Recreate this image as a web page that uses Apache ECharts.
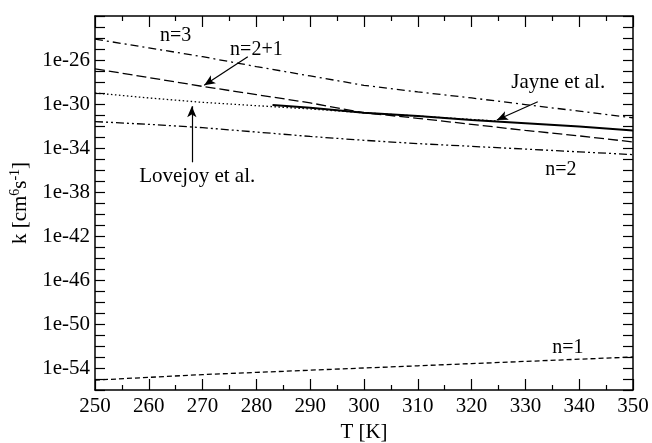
<!DOCTYPE html>
<html>
<head>
<meta charset="utf-8">
<script src="https://cdn.jsdelivr.net/npm/echarts@6/dist/echarts.min.js"></script>
<style>
  html, body { margin: 0; padding: 0; background: #fff; }
  #chart { width: 652px; height: 443px; }
</style>
</head>
<body>
<div id="chart"></div>
<script>
// temperatures [K]
const temps = [250, 260, 270, 280, 290, 300, 310, 320, 330, 340, 350];
// log10 of rate constant k [cm^6 s^-1]
const n3 = [-24.1, -24.9, -25.7, -26.6, -27.45, -28.3, -28.9, -29.45, -30.05, -30.65, -31.25];
const n21 = [-26.8, -27.6, -28.4, -29.15, -29.9, -30.8, -31.3, -31.85, -32.4, -32.9, -33.45];
const n2 = [-31.6, -31.85, -32.15, -32.55, -32.95, -33.3, -33.6, -33.85, -34.1, -34.35, -34.6];
const n1 = [-55.1, -54.85, -54.6, -54.4, -54.2, -54.0, -53.8, -53.6, -53.4, -53.2, -53.0];

const lovejoyT = [250, 260, 270, 280, 290, 300, 310, 320, 325];
const lovejoy = [-29.0, -29.45, -29.85, -30.15, -30.45, -30.8, -31.1, -31.4, -31.55];

const jayneT = [283, 290, 300, 310, 320, 330, 340, 350];
const jayne = [-30.1, -30.35, -30.8, -31.1, -31.45, -31.75, -32.05, -32.4];

// y tick labels (exponents)
const yLabels = [-26, -30, -34, -38, -42, -46, -50, -54];

const serif = "'Liberation Serif', 'DejaVu Serif', serif";
const pairs = (xs, ys) => xs.map((x, i) => [x, ys[i]]);

const chart = echarts.init(document.getElementById('chart'), null, { renderer: 'canvas' });

const textMark = (coord, text, size) => ({
  coord: coord,
  value: text,
  symbol: 'rect',
  symbolSize: 1,
  itemStyle: { color: 'transparent' },
  label: {
    show: true, position: 'inside', formatter: text,
    color: '#000', fontFamily: serif, fontSize: size
  }
});

const arrow = (from, to) => ([
  { coord: from, symbol: 'none' },
  { coord: to, symbol: 'arrow', symbolSize: [7, 11] }
]);

const markLineBase = {
  silent: true,
  animation: false,
  label: { show: false },
  lineStyle: { color: '#000', width: 1.2, type: 'solid' },
  emphasis: { disabled: true }
};

const markPointBase = { silent: true, animation: false };

const line = (name, data, dash, width) => ({
  name: name,
  type: 'line',
  data: data,
  showSymbol: false,
  symbol: 'none',
  animation: false,
  lineStyle: { color: '#000', width: width || 1.3, type: dash },
  emphasis: { disabled: true }
});

const s3 = line('n=3', pairs(temps, n3), [8, 4, 2, 4]);
s3.markPoint = Object.assign({ data: [textMark([265, -23.8], 'n=3', 20)] }, markPointBase);

const s21 = line('n=2+1', pairs(temps, n21), [10, 4]);
s21.markPoint = Object.assign({ data: [textMark([280, -25.1], 'n=2+1', 20)] }, markPointBase);
s21.markLine = Object.assign({ data: [arrow([278.4, -25.7], [270.3, -28.3])] }, markLineBase);

const sLove = line('Lovejoy et al.', pairs(lovejoyT, lovejoy), [1.5, 2.5]);
sLove.markPoint = Object.assign({ data: [textMark([269, -36.55], 'Lovejoy et al.', 21)] }, markPointBase);
sLove.markLine = Object.assign({ data: [arrow([268, -35.3], [268, -30.2])] }, markLineBase);

const sJayne = line('Jayne et al.', pairs(jayneT, jayne), 'solid', 2);
sJayne.markPoint = Object.assign({ data: [textMark([336.1, -28.0], 'Jayne et al.', 21)] }, markPointBase);
sJayne.markLine = Object.assign({ data: [arrow([332.3, -29.8], [324.7, -31.45])] }, markLineBase);

const s2 = line('n=2', pairs(temps, n2), [8, 3, 2, 3, 2, 3]);
s2.markPoint = Object.assign({ data: [textMark([336.6, -36.0], 'n=2', 20)] }, markPointBase);

const s1 = line('n=1', pairs(temps, n1), [5, 3]);
s1.markPoint = Object.assign({ data: [textMark([337.9, -52.2], 'n=1', 20)] }, markPointBase);

const axisLine = { show: true, onZero: false, lineStyle: { color: '#000', width: 1.5 } };

const option = {
  backgroundColor: '#fff',
  animation: false,
  grid: { left: 95, right: 19, top: 16, bottom: 53, containLabel: false, outerBoundsMode: 'none' },
  xAxis: [
    {
      type: 'value', min: 250, max: 350, interval: 10,
      name: 'T [K]', nameLocation: 'middle', nameGap: 32,
      nameTextStyle: { color: '#000', fontFamily: serif, fontSize: 21 },
      axisLine: axisLine,
      axisTick: { show: true, inside: true, length: 11, lineStyle: { color: '#000', width: 1.2 } },
      minorTick: { show: true, splitNumber: 2, length: 5, lineStyle: { color: '#000', width: 1.2 } },
      axisLabel: { color: '#000', fontFamily: serif, fontSize: 21, margin: 6 },
      splitLine: { show: false }
    },
    {
      type: 'value', min: 250, max: 350, interval: 10, position: 'top',
      axisLine: axisLine,
      axisTick: { show: true, inside: true, length: 11, lineStyle: { color: '#000', width: 1.2 } },
      minorTick: { show: true, splitNumber: 2, length: 5, lineStyle: { color: '#000', width: 1.2 } },
      axisLabel: { show: false },
      splitLine: { show: false }
    }
  ],
  yAxis: [
    {
      type: 'value', min: -56, max: -22, interval: 1,
      name: 'k [cm{sup|6}s{sup|-1}]', nameLocation: 'middle', nameGap: 60, nameRotate: 90,
      nameTextStyle: {
        color: '#000', fontFamily: serif, fontSize: 21,
        rich: { sup: { fontSize: 14, verticalAlign: 'bottom', fontFamily: serif, color: '#000', padding: [0, 0, 10, 0] } }
      },
      axisLine: axisLine,
      axisTick: { show: true, inside: true, length: 10, interval: 0, lineStyle: { color: '#000', width: 1.2 } },
      axisLabel: {
        color: '#000', fontFamily: serif, fontSize: 21, margin: 5, interval: 0,
        formatter: (v) => (yLabels.indexOf(v) >= 0 ? '1e' + v : '')
      },
      splitLine: { show: false }
    },
    {
      type: 'value', min: -56, max: -22, interval: 1, position: 'right',
      axisLine: axisLine,
      axisTick: { show: true, inside: true, length: 10, lineStyle: { color: '#000', width: 1.2 } },
      axisLabel: { show: false },
      splitLine: { show: false }
    }
  ],
  series: [s3, s21, sLove, sJayne, s2, s1]
};

chart.setOption(option);
</script>
</body>
</html>
